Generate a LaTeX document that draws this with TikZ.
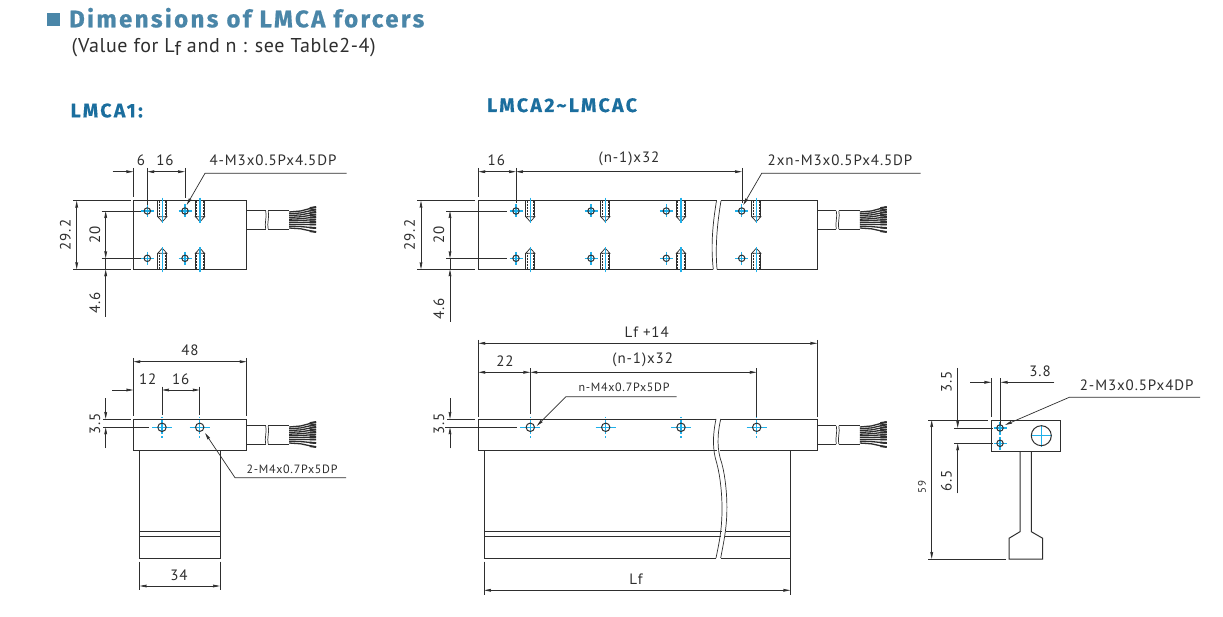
\documentclass[tikz,border=0pt]{standalone}
\usepackage{fontspec}
\setmainfont{PT Sans}
\newfontfamily\lblfont[LetterSpace=6]{PT Sans}
\newfontfamily\subfont[LetterSpace=3]{PT Sans}
\newfontfamily\titlefont[LetterSpace=10,FakeBold=0.7]{Fira Sans Bold}
\newfontfamily\headfont[LetterSpace=12,FakeBold=0.4]{Fira Sans Bold}
\usetikzlibrary{arrows.meta}
\definecolor{ink}{HTML}{2E2E2E}
\definecolor{cyanline}{HTML}{1FB0EA}
\definecolor{titleblue}{HTML}{4A86A8}
\definecolor{headblue}{HTML}{1B6E9E}
\tikzset{
  part/.style={color=ink,line width=1pt},
  thin part/.style={color=ink,line width=0.7pt},
  extline/.style={color=ink,line width=0.7pt},
  dimline/.style={color=ink,line width=0.7pt},
  dimtip/.style={-{Stealth[length=7pt,width=2.8pt,inset=0.5pt]}},
  bothtips/.style={{Stealth[length=7pt,width=2.8pt,inset=0.5pt]}-{Stealth[length=7pt,width=2.8pt,inset=0.5pt]}},
  lbl/.style={text=ink,anchor=mid,inner sep=0pt,font=\lblfont\fontsize{15}{16}\selectfont},
  lblv/.style={lbl,rotate=90},
  small lbl/.style={lbl,font=\lblfont\fontsize{12}{14}\selectfont},
  centerl/.style={color=cyanline,line width=1.1pt},
}
\newcommand{\bighole}[2]{%
  \draw[centerl] (#1-10,#2) -- (#1+10,#2) (#1,#2-7) -- (#1,#2+7) (#1,#2-10.5) -- (#1,#2-9) (#1,#2+9) -- (#1,#2+10.5);
  \draw[part] (#1,#2) circle (4.2);}
\newcommand{\smallhole}[2]{%
  \draw[centerl] (#1-6.5,#2) -- (#1+6.5,#2) (#1,#2-6.5) -- (#1,#2+6.5);
  \draw[part] (#1,#2) circle (3.2);}
% threaded hole in section, opening on the edge at y=#2; #3=1 down, -1 up
\newcommand{\threaded}[3]{%
  \begin{scope}[shift={(#1,#2)},yscale=#3]
    \draw[part] (-4.6,0) -- (-4.6,16) (4.6,0) -- (4.6,16);
    \draw[thin part] (-4.6,16) -- (0,21) -- (4.6,16) -- cycle;
    \draw[thin part,dash pattern=on 2pt off 1pt] (-3.2,0) -- (-3.2,16) (3.2,0) -- (3.2,16);
    \draw[centerl] (0,-3) -- (0,22);
  \end{scope}}
% cable starting at block face x=#1, centre y=#2
\newcommand{\cablewires}[2]{%
  \begin{scope}[shift={(#1,#2)}]
    \draw[part] (0,-9.2) -- (19,-9.2) (0,9.2) -- (19,9.2) (21.5,-9.2) -- (42.5,-9.2) (21.5,9.2) -- (42.5,9.2);
    \draw[thin part] (19,-9.2) .. controls (20.5,-3) and (17.5,3) .. (19,9.2);
    \draw[thin part] (21.5,-9.2) .. controls (23,-3) and (20,3) .. (21.5,9.2);
    \foreach \a/\b in {-8/-13,-6.2/-10.5,-4.4/-8,-2.6/-5.5,-0.8/-3,0.8/-0.5,2.6/2,4.4/4.5,6.2/8,8/12}{
      \draw[color=ink,line width=1.3pt] (42.5,\a) -- (54,{\a+(\b-\a)*0.2}) -- (69,\b);
      \draw[color=ink,line width=1.9pt] (63,{\a+(\b-\a)*0.78}) -- (69.5,\b);
    }
  \end{scope}}
\begin{document}
\begin{tikzpicture}[x=1pt,y=-1pt]
\useasboundingbox (0,0) rectangle (1223,617);
\fill[white] (0,0) rectangle (1223,617);

% ---- Headings
\fill[titleblue] (47.3,12.7) rectangle (60,26);
\node[anchor=base west,inner sep=0pt,text=titleblue,font=\titlefont\fontsize{24}{26}\selectfont] (title) at (69,27.3) {Dimensions of LMCA forcers};
\node[anchor=base west,inner sep=0pt,text=ink,font=\subfont\fontsize{20}{22}\selectfont] (sub) at (71.5,52.7) {(Value for L\raisebox{-3pt}{f} and n : see Table2-4)};
\node[anchor=base west,inner sep=0pt,text=headblue,font=\headfont\fontsize{19.5}{21}\selectfont] (h1) at (70.5,117.3) {LMCA1:};
\node[anchor=base west,inner sep=0pt,text=headblue,font=\headfont\fontsize{19.5}{21}\selectfont] (h2) at (487,112) {LMCA2\textasciitilde LMCAC};

% ---- LMCA1 top view
\draw[part] (133.3,200.7) rectangle (246.7,269.3);
\cablewires{246.7}{220}
\foreach \x in {147.3,185}{\smallhole{\x}{211}\smallhole{\x}{258.3}}
\foreach \x in {162.3,200}{\threaded{\x}{200.7}{1}\threaded{\x}{269.3}{-1}}
\draw[extline] (133.3,168) -- (133.3,197) (147.3,168) -- (147.3,205) (185,168) -- (185,198);
\draw[dimline,dimtip] (112.7,171.7) -- (133.3,171.7);
\draw[dimline,bothtips] (147.3,171.7) -- (185,171.7);
\node[lbl] (a6) at (141,163) {6};
\node[lbl] (a16) at (165,163) {16};
\draw[dimline,dimtip] (346.7,173.3) -- (205,173.3) -- (186.7,205);
\node[lbl] (a4m) at (273,163) {4-M3x0.5Px4.5DP};
\draw[extline] (73.3,200.7) -- (131,200.7) (73.3,269.3) -- (131,269.3);
\draw[dimline,bothtips] (76.7,200.7) -- (76.7,269.3);
\node[lblv] (a292) at (68,235) {29.2};
\draw[extline] (101.7,211) -- (140.7,211) (101.7,258.3) -- (140.7,258.3);
\draw[dimline,bothtips] (105.7,211) -- (105.7,258.3);
\node[lblv] (a20) at (97.7,235) {20};
\draw[dimline] (105.7,258.3) -- (105.7,269.3);
\draw[dimline,dimtip] (105.7,316.7) -- (105.7,269.3);
\node[lblv] (a46) at (97.7,303) {4.6};

% ---- LMCA1 front view
\draw[part] (133.3,419) rectangle (246.7,450.7);
\draw[part] (139.7,450.7) -- (139.7,558.3) -- (220,558.3) -- (220,450.7);
\draw[thin part] (139.7,531.7) -- (220,531.7) (139.7,536.7) -- (220,536.7);
\cablewires{246.7}{435}
\bighole{162}{427.3}\bighole{199.7}{427.3}
\draw[extline] (133.3,358) -- (133.3,416) (246.7,358) -- (246.7,416);
\draw[dimline,bothtips] (133.3,361.7) -- (246.7,361.7);
\node[lbl] (b48) at (190,353.3) {48};
\draw[dimline,dimtip] (112.3,390) -- (133.3,390);
\draw[dimline,bothtips] (162,390) -- (199.7,390);
\draw[extline] (162,386.7) -- (162,415) (199.7,386.7) -- (199.7,415);
\node[lbl] (b12) at (147.7,381.7) {12};
\node[lbl] (b16) at (180.7,381.7) {16};
\draw[extline] (103,419) -- (131,419) (103,427.3) -- (149,427.3);
\draw[dimline,dimtip] (105.7,398) -- (105.7,419);
\draw[dimline,dimtip] (105.7,448) -- (105.7,427.3);
\node[lblv] (b35) at (97.7,424) {3.5};
\draw[dimline,dimtip] (346,477.7) -- (235,477.7) -- (205,433);
\node[small lbl] (b2m) at (292,471) {2-M4x0.7Px5DP};
\draw[extline] (139.7,561.7) -- (139.7,590) (220,561.7) -- (220,590);
\draw[dimline,bothtips] (139.7,586) -- (220,586);
\node[lbl] (b34) at (179,577.7) {34};

% ---- LMCA2 top view
\draw[part] (478.3,200.7) -- (716.5,200.7);
\draw[part] (721,200.7) -- (817.3,200.7) -- (817.3,269.3) -- (717,269.3);
\draw[part] (713.3,269.3) -- (478.3,269.3) -- (478.3,200.7);
\draw[thin part] (716.5,200.7) .. controls (713,222) and (710.5,245) .. (713.3,269.3);
\draw[thin part] (721,200.7) .. controls (717.5,222) and (715,245) .. (717,269.3);
\cablewires{817.3}{220}
\foreach \x in {516,591,666.3,741.7}{\smallhole{\x}{211}\smallhole{\x}{258.3}}
\foreach \x in {530.3,605.3,681,756.3}{\threaded{\x}{200.7}{1}\threaded{\x}{269.3}{-1}}
\draw[extline] (478.3,168) -- (478.3,197.3) (516,168) -- (516,203) (742,168) -- (742,203);
\draw[dimline,bothtips] (478.3,171.7) -- (516,171.7);
\draw[dimline,bothtips] (516,171.7) -- (742,171.7);
\node[lbl] (c16) at (496.3,163) {16};
\node[lbl] (cn) at (629,160) {(n-1)x32};
\draw[dimline,dimtip] (920.7,173.3) -- (761.7,173.3) -- (743.3,205);
\node[lbl] (c2x) at (840,163.3) {2xn-M3x0.5Px4.5DP};
\draw[extline] (417.3,200.7) -- (475,200.7) (417.3,269.3) -- (475,269.3);
\draw[dimline,bothtips] (421,200.7) -- (421,269.3);
\node[lblv] (c292) at (412.3,235) {29.2};
\draw[extline] (446,211) -- (506.7,211) (446,258.3) -- (506.7,258.3);
\draw[dimline,bothtips] (450,211) -- (450,258.3);
\node[lblv] (c20) at (441.7,235) {20};
\draw[dimline] (450,258.3) -- (450,269.3);
\draw[dimline,dimtip] (450,321.7) -- (450,269.3);
\node[lblv] (c46) at (441.7,309) {4.6};

% ---- LMCA2 front view
\draw[part] (716,419) -- (478.3,419) -- (478.3,450.7) -- (716.7,450.7);
\draw[part] (720.7,419) -- (817.3,419) -- (817.3,450.7) -- (720,450.7);
\draw[part] (484,450.7) -- (484,558) -- (716,558);
\draw[part] (720.7,558) -- (790.3,558) -- (790.3,450.7);
\draw[thin part] (484,531.3) -- (722,531.3) (725.5,531.3) -- (790.3,531.3) (484,536.7) -- (721,536.7) (725,536.7) -- (790.3,536.7);
\draw[thin part] (716,419) .. controls (712.5,436) and (712.5,450) .. (716.7,463) .. controls (720,475) and (723,497) .. (721.7,520) .. controls (721,535) and (718,548) .. (716,558);
\draw[thin part] (720.7,419) .. controls (717,436) and (717,450) .. (721.7,463) .. controls (725,475) and (728,497) .. (726.5,520) .. controls (725.5,535) and (722.5,548) .. (720.7,558);
\cablewires{817.3}{435}
\foreach \x in {530.3,605.7,681,756.7}{\bighole{\x}{427.3}}
\draw[extline] (478.3,340) -- (478.3,416.5) (817.3,340) -- (817.3,416.5);
\draw[dimline,bothtips] (478.3,343.3) -- (817.3,343.3);
\node[lbl] (dlf) at (646.7,335) {Lf +14};
\draw[dimline,bothtips] (478.3,372.3) -- (530.3,372.3);
\draw[dimline,bothtips] (530.3,372.3) -- (756.7,372.3);
\draw[extline] (530.3,368.3) -- (530.3,414) (756.7,368.3) -- (756.7,416.7);
\node[lbl] (d22) at (505,364) {22};
\node[lbl] (dn) at (642.7,360.7) {(n-1)x32};
\draw[dimline,dimtip] (676.7,396.7) -- (566,396.7) -- (536.7,426);
\node[small lbl] (dm) at (624,389) {n-M4x0.7Px5DP};
\draw[extline] (447,419) -- (475,419) (445,427.3) -- (516.7,427.3);
\draw[dimline,dimtip] (450,398.3) -- (450,419);
\draw[dimline,dimtip] (450,448.3) -- (450,427.3);
\node[lblv] (d35) at (441.7,424) {3.5};
\draw[extline] (484,561.7) -- (484,595) (790.3,558) -- (790.3,595);
\draw[dimline,bothtips] (484,590.3) -- (790.3,590.3);
\node[lbl] (dl) at (636,581.7) {Lf};

% ---- End view
\draw[part] (991.3,420) rectangle (1060.7,451.7);
\draw[part] (1020,451.7) -- (1020,531.7) -- (1009,538.3) -- (1009,559) -- (1042.7,559) -- (1042.7,538.3) -- (1031.3,531.7) -- (1031.3,451.7);
\smallhole{1000}{428}\smallhole{1000}{443.3}
\draw[centerl] (1031,435.7) -- (1052,435.7) (1041.3,425) -- (1041.3,446.5);
\draw[part] (1041.3,435.7) circle (10);
\draw[dimline,dimtip] (970,382.3) -- (991.3,382.3);
\draw[dimline,dimtip] (1054.3,382.3) -- (1000.7,382.3);
\draw[extline] (991.3,378) -- (991.3,417) (1000.7,378) -- (1000.7,425);
\node[lbl] (e38) at (1040,374) {3.8};
\draw[extline] (928,420) -- (988,420) (954,428) -- (992.7,428) (954,443.3) -- (992.7,443.3);
\draw[dimline,dimtip] (957.7,368) -- (957.7,428);
\draw[dimline,dimtip] (957.7,493.3) -- (957.7,443.3);
\node[lblv] (e35) at (949,381.7) {3.5};
\node[lblv] (e65) at (949,480.7) {6.5};
\draw[extline] (928,559) -- (1006,559);
\draw[dimline,bothtips] (931.7,420) -- (931.7,559);
\node[lblv,font=\lblfont\fontsize{11}{12}\selectfont] (e59) at (923.3,486.7) {59};
\draw[dimline,dimtip] (1200,397.3) -- (1069.3,397.3) -- (1005,425);
\node[lbl] (e2m) at (1136.7,388.3) {2-M3x0.5Px4DP};
\end{tikzpicture}
\end{document}
